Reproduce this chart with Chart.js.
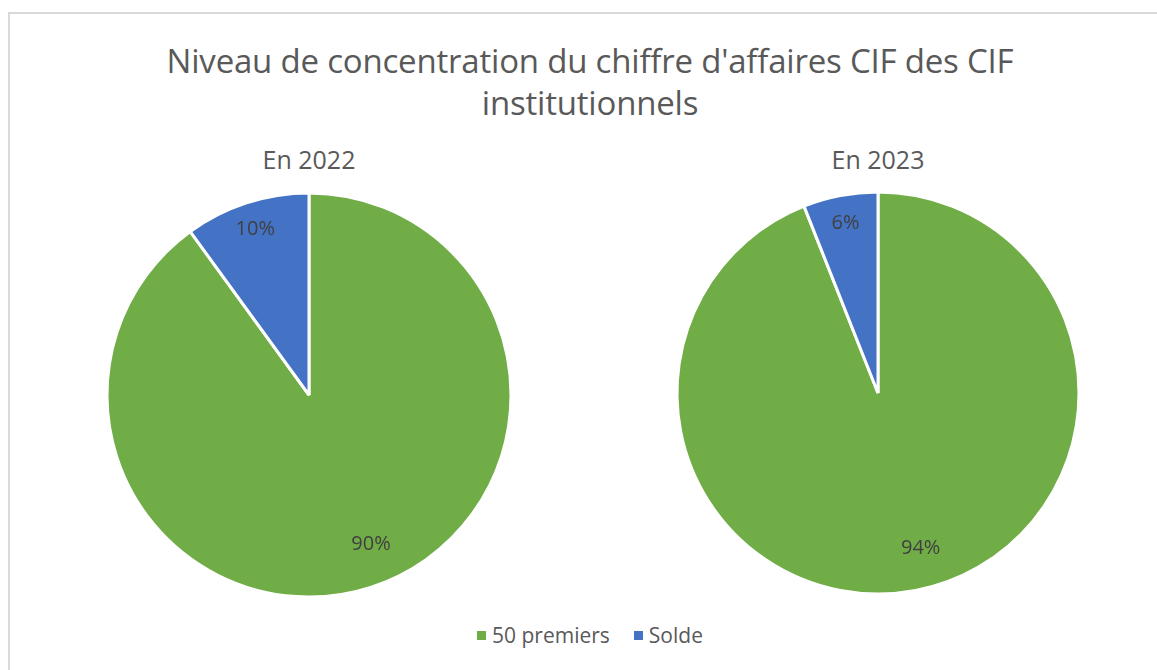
<!DOCTYPE html>
<html>
<head>
<meta charset="utf-8">
<script src="https://cdn.jsdelivr.net/npm/chart.js@4"></script>
<style>
  body { margin: 0; background: #fff; width: 1157px; height: 670px; overflow: hidden; position: relative; font-family: "Open Sans", sans-serif; }
  #frame { position: absolute; left: 8px; top: 12px; width: 1170px; height: 680px; border: 2px solid #d9d9d9; box-sizing: border-box; }
  #title { position: absolute; left: 0; width: 1180px; top: 40px; text-align: center; color: #595959;
           font-size: 33px; line-height: 42px; letter-spacing: -0.2px; }
  .sub { position: absolute; top: 142px; width: 300px; text-align: center; color: #595959; font-size: 25px; }
  canvas { position: absolute; }
  #legend { position: absolute; top: 621px; left: 0; width: 1180px; text-align: center; color: #595959; font-size: 21px; }
  #legend span.box { display: inline-block; width: 9px; height: 9px; margin-right: 6px; vertical-align: 3px; }
  #legend span.item { margin: 0 12px; }
</style>
</head>
<body>
<div id="frame"></div>
<div id="title">Niveau de concentration du chiffre d'affaires CIF des CIF<br>institutionnels</div>
<div class="sub" style="left:159px">En 2022</div>
<div class="sub" style="left:728px">En 2023</div>
<canvas id="pie2022" width="440" height="440" style="left:89px; top:175px"></canvas>
<canvas id="pie2023" width="440" height="440" style="left:658px; top:173px"></canvas>
<div id="legend"></div>
<script>
const categories = ["50 premiers", "Solde"];
const values2022 = [90, 10];
const values2023 = [94, 6];
const colors = ["#70AD47", "#4472C4"];

// percentage labels inside the slices
const sliceLabels = {
    id: "sliceLabels",
    afterDatasetsDraw(chart) {
        const ctx = chart.ctx;
        const data = chart.data.datasets[0].data;
        const total = data.reduce((a, b) => a + b, 0);
        chart.getDatasetMeta(0).data.forEach((arc, i) => {
            const small = data[i] / total < 0.2;
            // big slices: Excel pushes the label a bit off the bisector, towards the right
            const mid = (arc.startAngle + arc.endAngle) / 2 - (small ? 0 : 0.08);
            const f = small ? 0.86 : 0.8;
            const x = arc.x + Math.cos(mid) * arc.outerRadius * f;
            const y = arc.y + Math.sin(mid) * arc.outerRadius * f;
            ctx.save();
            ctx.fillStyle = "#404040";
            ctx.font = "20px 'Open Sans', sans-serif";
            ctx.textAlign = "center";
            ctx.textBaseline = "middle";
            ctx.fillText(Math.round(data[i] / total * 100) + "%", x, y);
            ctx.restore();
        });
    }
};

function makePie(id, values, radius) {
    new Chart(document.getElementById(id), {
        type: "pie",
        data: {
            labels: categories,
            datasets: [{
                data: values,
                backgroundColor: colors,
                borderColor: "#ffffff",
                borderWidth: 3,
                radius: radius
            }]
        },
        options: {
            responsive: false,
            animation: false,
            layout: { padding: 0 },
            plugins: { legend: { display: false }, tooltip: { enabled: false } }
        },
        plugins: [sliceLabels]
    });
}

makePie("pie2022", values2022, 202);
makePie("pie2023", values2023, 201);

const legend = document.getElementById("legend");
categories.forEach((c, i) => {
    legend.innerHTML += `<span class="item"><span class="box" style="background:${colors[i]}"></span>${c}</span>`;
});
</script>
</body>
</html>
